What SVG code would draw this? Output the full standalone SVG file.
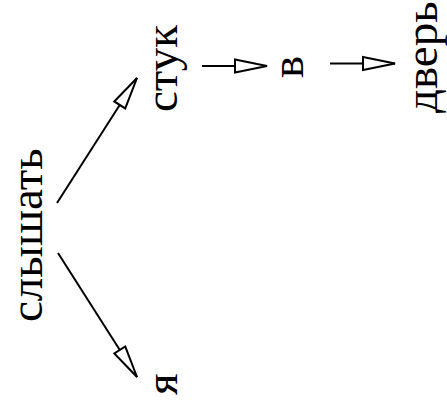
<svg xmlns="http://www.w3.org/2000/svg" width="447" height="412" viewBox="0 0 447 412">
<style>
.c{stroke:#000;stroke-width:2;fill:none}
.t{font-family:"Liberation Serif","Times New Roman",serif;font-size:47px;fill:#000}
</style>
<defs>
<marker id="ah" markerUnits="userSpaceOnUse" markerWidth="40" markerHeight="20" viewBox="-2 -9 40 18" refX="33" refY="0" orient="auto" overflow="visible">
<path d="M1,-6.5 L33,0 L1,6.5 Z" fill="#fff" stroke="#000" stroke-width="2" stroke-linejoin="miter"/>
</marker>
</defs>
<rect width="447" height="412" fill="#fff"/>
<g id="connectors">
<line class="c" x1="57" y1="203" x2="137" y2="78" marker-end="url(#ah)"/>
<line class="c" x1="58" y1="253" x2="137" y2="377" marker-end="url(#ah)"/>
<line class="c" x1="202" y1="66" x2="267" y2="66" marker-end="url(#ah)"/>
<line class="c" x1="330" y1="63.5" x2="395" y2="63.5" marker-end="url(#ah)"/>
</g>
<g id="n-slyshat"><text class="t" transform="translate(42,322) rotate(-90)">слышать</text></g>
<g id="n-stuk"><text class="t" transform="translate(177,112) rotate(-90)">стук</text></g>
<g id="n-v"><text class="t" transform="translate(303,78) rotate(-90)">в</text></g>
<g id="n-dver"><text class="t" transform="translate(437,113) rotate(-90)">дверь</text></g>
<g id="n-ya"><text class="t" transform="translate(177,395) rotate(-90)">я</text></g>
</svg>
